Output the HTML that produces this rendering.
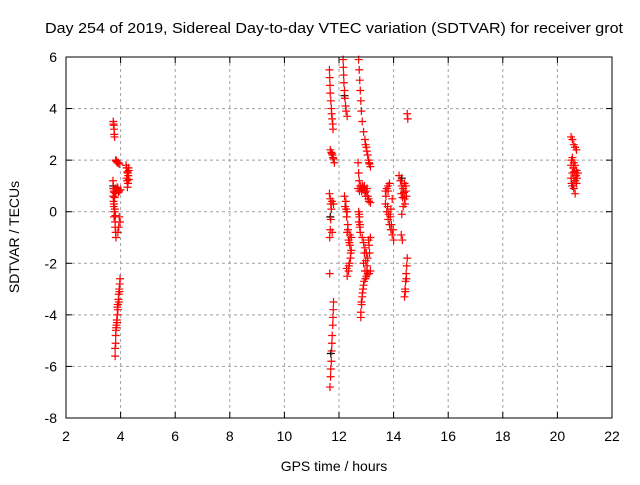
<!DOCTYPE html>
<html><head><meta charset="utf-8"><style>
body{margin:0;background:#fff;}
svg text{font-family:"Liberation Sans",sans-serif;fill:#000;}
</style></head><body>
<svg id="chart" width="640" height="480" xmlns="http://www.w3.org/2000/svg">
<rect width="640" height="480" fill="#fff"/>
<text x="45" y="33" font-size="15" textLength="578" lengthAdjust="spacingAndGlyphs">Day 254 of 2019, Sidereal Day-to-day VTEC variation (SDTVAR) for receiver grot</text>
<g id="grid"></g>
<g id="ticks"></g>
<g id="marks"></g>
<rect x="66" y="57" width="546" height="361" fill="none" stroke="#000" stroke-width="1"/>
<text x="334" y="471" font-size="14" text-anchor="middle">GPS time / hours</text>
<text transform="translate(19,237) rotate(-90)" font-size="14" text-anchor="middle">SDTVAR / TECUs</text>
</svg>
<script>
const xTicks=[2,4,6,8,10,12,14,16,18,20,22];
const yTicks=[-8,-6,-4,-2,0,2,4,6];
const redPts=[
3.73,3.5,3.74,3.4,3.76,3.2,3.77,3.0,3.78,2.9,3.75,3.35,
3.82,2.0,3.85,1.95,3.88,1.9,3.92,1.9,3.95,1.85,3.84,1.98,
4.2,1.8,4.22,1.7,4.25,1.55,4.28,1.4,4.3,1.25,4.27,1.1,4.25,0.95,4.3,1.6,4.22,1.3,4.26,1.5,4.29,1.7,4.24,1.2,
3.72,1.2,3.73,0.9,3.75,0.8,3.8,0.9,3.85,0.85,3.9,0.9,3.95,0.8,4.0,0.85,3.73,0.6,3.74,0.4,3.75,0.2,3.78,0.0,3.76,-0.2,3.8,-0.4,3.8,-0.6,3.82,-0.8,3.83,-1.0,3.95,-0.2,3.98,-0.4,3.93,-0.6,3.9,-0.8,
3.77,0.75,3.82,0.7,3.87,0.95,3.92,0.75,3.78,0.55,3.76,0.3,3.79,0.1,3.81,-0.15,
3.98,-2.6,3.97,-2.8,3.95,-3.0,3.93,-3.2,3.92,-3.4,3.9,-3.6,3.9,-3.8,3.88,-4.0,3.86,-4.2,3.85,-4.4,3.83,-4.6,3.82,-4.8,3.82,-5.1,3.8,-5.3,3.8,-5.6,
3.96,-3.1,3.94,-3.5,3.88,-3.7,3.87,-4.3,3.84,-4.5,
11.65,5.5,11.66,5.2,11.67,4.9,11.68,4.6,11.7,4.3,11.72,4.0,11.73,3.8,11.75,3.6,11.77,3.4,11.78,3.2,
11.68,2.4,11.72,2.3,11.76,2.2,11.8,2.05,11.83,1.9,11.74,2.25,11.78,2.1,
11.65,0.7,11.68,0.5,11.7,0.3,11.72,0.1,11.75,0.4,11.8,0.3,11.7,-0.3,11.68,-0.7,11.66,-1.0,11.75,-0.8,
11.66,-2.4,
11.8,-3.5,11.79,-3.8,11.78,-4.1,11.77,-4.4,11.75,-4.8,11.74,-5.1,11.73,-5.4,11.72,-5.8,11.7,-6.1,11.69,-6.4,11.67,-6.8,
12.15,5.9,12.16,5.6,12.17,5.3,12.18,5.0,12.2,4.7,12.22,4.4,12.24,4.1,12.26,3.9,12.3,3.7,
12.2,0.6,12.25,0.4,12.22,0.2,12.3,0.0,12.28,-0.2,12.32,-0.5,12.3,-0.8,12.35,-1.1,12.4,-1.3,12.45,-1.5,12.42,-1.8,12.38,-2.0,12.35,-2.3,12.3,-2.5,12.28,-2.2,12.4,-0.9,12.45,-1.0,
12.26,0.1,12.33,-0.7,12.38,-1.2,12.43,-1.6,12.36,-2.1,
12.72,5.9,12.74,5.5,12.76,5.1,12.78,4.7,12.8,4.3,12.82,3.9,12.85,3.5,12.9,3.1,12.95,2.8,13.0,2.5,13.05,2.2,13.1,1.9,13.15,1.75,
12.97,2.6,13.02,2.35,13.08,2.0,13.12,1.85,
12.7,1.9,12.72,1.5,12.74,1.2,12.7,0.9,12.75,0.8,12.8,0.9,12.85,1.0,12.9,0.85,12.95,0.75,13.0,0.8,13.05,0.6,13.1,0.4,13.15,0.35,
12.78,1.0,12.83,0.8,12.88,0.95,12.93,1.0,12.98,0.6,13.03,0.9,13.08,0.5,
12.72,0.0,12.75,-0.2,12.73,-0.4,12.76,-0.6,12.78,-0.8,12.74,-0.1,12.77,-0.5,
12.85,-1.0,12.9,-1.2,12.95,-1.4,13.0,-1.6,13.05,-1.8,13.1,-1.3,13.15,-1.0,12.9,-2.0,12.95,-2.3,13.0,-2.5,13.05,-2.4,13.1,-2.4,13.15,-2.3,12.92,-2.7,12.88,-3.0,12.85,-3.3,12.83,-3.6,12.8,-3.9,12.8,-4.1,
12.93,-1.6,12.98,-1.9,13.03,-2.1,13.08,-1.1,13.12,-1.6,12.97,-2.6,13.02,-2.3,12.9,-2.85,12.86,-3.15,12.82,-3.5,
13.7,0.8,13.75,0.9,13.8,1.0,13.85,1.1,13.7,0.3,13.75,0.0,13.8,-0.3,13.85,-0.5,13.9,-0.7,13.95,-0.9,14.0,-1.1,13.9,0.1,13.95,0.5,
13.72,0.6,13.78,0.2,13.82,-0.1,13.88,-0.2,13.92,-0.5,13.98,-0.7,13.8,0.8,
14.2,1.4,14.25,1.2,14.3,1.0,14.35,0.9,14.4,1.1,14.45,0.8,14.4,0.5,14.35,0.2,14.3,-0.1,14.45,1.0,
14.28,0.7,14.33,0.55,14.38,0.75,14.42,0.3,14.47,0.6,
14.28,-0.9,14.32,-1.1,
14.5,-1.8,14.48,-2.1,14.46,-2.4,14.44,-2.7,14.42,-3.0,14.4,-3.3,14.47,-2.6,14.43,-3.1,
14.5,3.8,14.52,3.6,
20.5,2.9,20.55,2.8,20.6,2.6,20.65,2.5,20.7,2.4,20.55,2.1,20.6,1.9,20.65,1.8,20.7,1.6,20.55,1.5,20.6,1.3,20.65,1.2,20.7,1.1,20.6,0.9,20.65,0.7,20.5,1.8,20.5,1.3,20.75,1.5,
20.52,2.0,20.58,1.7,20.62,1.55,20.68,1.4,20.52,1.1,20.57,1.0,20.72,1.3
];
const blackPts=[3.73,1.0,11.7,-5.5,12.2,4.5,20.55,1.0,14.3,1.3,11.68,-0.2];
const NS="http://www.w3.org/2000/svg";
const X0=66,X1=612,Y0=418,Y1=57;
function xs(t){return X0+(t-2)/(22-2)*(X1-X0);}
function ys(v){return Y0-(v+8)/(6+8)*(Y0-Y1);}
function mk(tag,attrs,parent){const e=document.createElementNS(NS,tag);for(const k in attrs)e.setAttribute(k,attrs[k]);parent.appendChild(e);return e;}
const grid=document.getElementById('grid'),ticks=document.getElementById('ticks'),marks=document.getElementById('marks');
xTicks.forEach(t=>{const x=xs(t);
 if(t>2&&t<22){const g=mk('line',{x1:x,x2:x,y1:Y1,y2:Y0,stroke:'#a0a0a0','stroke-dasharray':'3,3'},grid);
 
 }
 mk('line',{x1:x,x2:x,y1:Y0,y2:Y0-6,stroke:'#000'},ticks);
 mk('line',{x1:x,x2:x,y1:Y1,y2:Y1+6,stroke:'#000'},ticks);
 const l=mk('text',{x:x,y:Y0+23,'font-size':'14','text-anchor':'middle'},ticks);l.textContent=t;
 
 
});
yTicks.forEach(v=>{const y=ys(v);
 if(v>-8&&v<6){const g=mk('line',{x1:X0,x2:X1,y1:y,y2:y,stroke:'#a0a0a0','stroke-dasharray':'3,3'},grid);
 
 }
 mk('line',{x1:X0,x2:X0+6,y1:y,y2:y,stroke:'#000'},ticks);
 mk('line',{x1:X1,x2:X1-6,y1:y,y2:y,stroke:'#000'},ticks);
 const l=mk('text',{x:X0-9,y:y+5,'font-size':'14','text-anchor':'end'},ticks);l.textContent=v;
 
 
});
function plus(arr,color,name){for(let i=0;i<arr.length;i+=2){const x=xs(arr[i]),y=ys(arr[i+1]);
 const p=mk('path',{d:`M${x-4},${y}H${x+4}M${x},${y-4}V${y+4}`,stroke:color,'stroke-width':'1.2',fill:'none'},marks);
 
 }}
plus(blackPts,'#000','black-point');
plus(redPts,'#f00','red-point');
</script>
</body></html>
